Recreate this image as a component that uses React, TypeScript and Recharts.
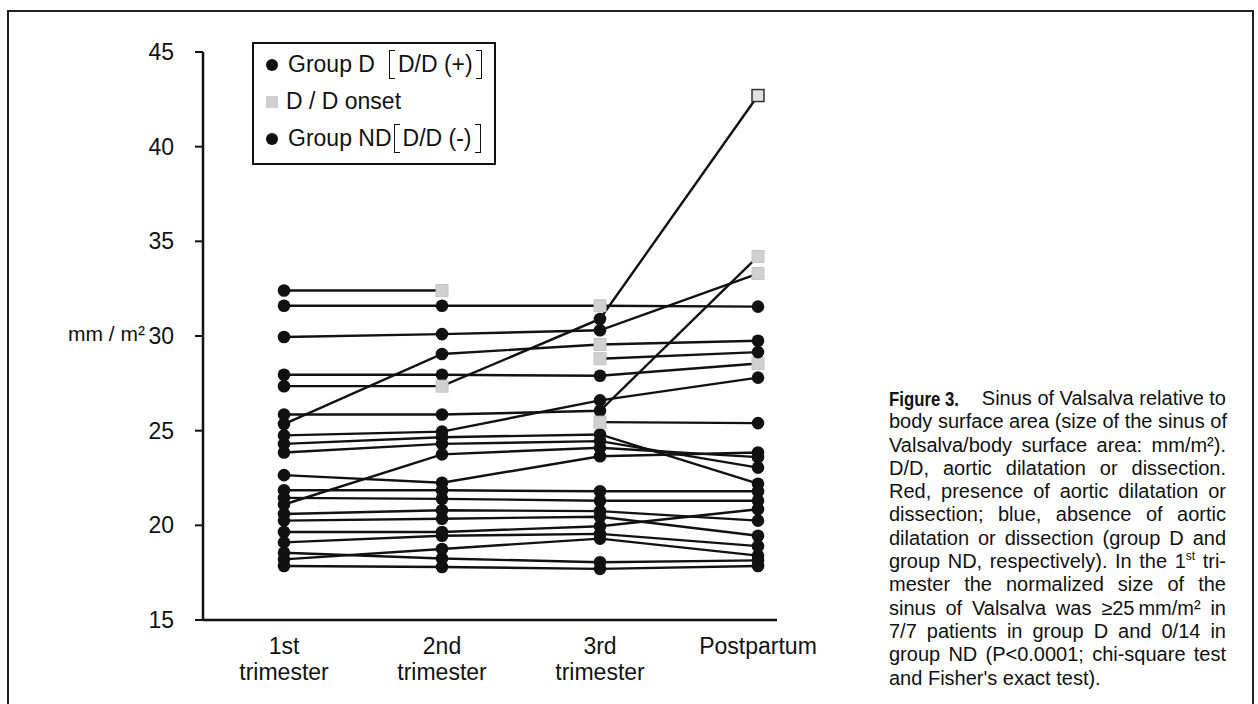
import React from 'react';
import { LineChart, Line, XAxis, YAxis } from 'recharts';

const timepoints = ['1st trimester', '2nd trimester', '3rd trimester', 'Postpartum'];
const yTicks = [15, 20, 25, 30, 35, 40, 45];

// Sinus of Valsalva / BSA (mm/m²) per patient, one value per timepoint (null = not measured)
const groupD: (number | null)[][] = [
  [32.4, 32.4, null, null],
  [31.6, 31.6, 31.6, 31.55],
  [29.95, 30.1, 30.3, 33.3],
  [27.95, 27.95, 27.9, 28.55],
  [27.35, 27.35, 30.9, 42.7],
  [25.85, 25.85, 26.05, 34.2],
  [25.35, 29.05, 29.55, 29.75],
];
// timepoint index where D/D onset was recorded
const groupDOnset: number[][] = [[1], [2], [3], [3], [1, 3], [3], [2]];

// followed from the 3rd trimester only
const lateSeries: (number | null)[][] = [
  [null, null, 28.8, 29.15],
  [null, null, 25.45, 25.4],
];
const lateOnset: number[][] = [[2], [2]];

const groupND: (number | null)[][] = [
  [24.75, 24.95, 26.6, 27.8],
  [24.3, 24.65, 24.8, 22.2],
  [23.85, 24.3, 24.45, 23.05],
  [21.1, 23.75, 24.1, 23.6],
  [22.65, 22.25, 23.65, 23.85],
  [21.85, 21.85, 21.8, 21.8],
  [21.45, 21.4, 21.3, 21.3],
  [20.6, 20.8, 20.75, 20.25],
  [20.25, 20.35, 20.45, 19.45],
  [19.65, 19.65, 19.95, 20.85],
  [19.1, 19.45, 19.55, 18.9],
  [18.55, 18.25, 18.05, 18.15],
  [18.2, 18.75, 19.3, 18.4],
  [17.85, 17.8, 17.7, 17.85],
];

const captionLines = [
  'body surface area (size of the sinus of',
  'Valsalva/body surface area: mm/m²).',
  'D/D, aortic dilatation or dissection.',
  'Red, presence of aortic dilatation or',
  'dissection; blue, absence of aortic',
  'dilatation or dissection (group D and',
];
const captionTail = [
  'mester the normalized size of the',
  'sinus of Valsalva was ≥25\u2009mm/m² in',
  '7/7 patients in group D and 0/14 in',
  'group ND (P<0.0001; chi-square test',
];

type SeriesDef = { key: string; values: (number | null)[]; onset: number[] };

const series: SeriesDef[] = [
  ...groupND.map((v, i) => ({ key: `n${i}`, values: v, onset: [] as number[] })),
  ...groupD.map((v, i) => ({ key: `d${i}`, values: v, onset: groupDOnset[i] })),
  ...lateSeries.map((v, i) => ({ key: `l${i}`, values: v, onset: lateOnset[i] })),
];

const rows = timepoints.map((t, ti) => {
  const row: Record<string, string | number | null> = { t };
  series.forEach((s) => {
    row[s.key] = s.values[ti];
  });
  return row;
});

const FONT = '"Liberation Sans", Arial, Helvetica, sans-serif';
const framedSquares = new Set(['d4-3']);

function makeDot(key: string, onset: number[]) {
  return (props: any) => {
    const { cx, cy, index, value } = props;
    if (value == null || cx == null || cy == null) return <g key={`${key}-x${index}`} />;
    if (onset.includes(index)) {
      const framed = framedSquares.has(`${key}-${index}`);
      return (
        <rect
          key={`${key}-s${index}`}
          x={cx - 6}
          y={cy - 6}
          width={12}
          height={12}
          fill={framed ? '#e2e2e2' : '#d0d0d0'}
          stroke={framed ? '#333' : '#c4c4c4'}
          strokeWidth={framed ? 1.5 : 1}
        />
      );
    }
    return <circle key={`${key}-c${index}`} cx={cx} cy={cy} r={6.3} fill="#111" />;
  };
}

const XTick = ({ x, y, payload }: any) => {
  const parts = String(payload.value).split(' ');
  return (
    <text x={x} y={y} textAnchor="middle" fontSize={23} fontFamily={FONT} fill="#111">
      {parts.map((p, i) => (
        <tspan key={p} x={x} dy={i === 0 ? 32 : 26}>
          {p}
        </tspan>
      ))}
    </text>
  );
};

const Bracket = ({ side }: { side: 'l' | 'r' }) => (
  <span
    style={{
      display: 'inline-block',
      width: 5,
      height: 27,
      verticalAlign: 'middle',
      borderTop: '1.5px solid #111',
      borderBottom: '1.5px solid #111',
      borderLeft: side === 'l' ? '1.5px solid #111' : 'none',
      borderRight: side === 'r' ? '1.5px solid #111' : 'none',
      margin: side === 'l' ? '0 3px 0 0' : '0 0 0 3px',
    }}
  />
);

const rowStyle: React.CSSProperties = {
  height: 37,
  display: 'flex',
  alignItems: 'center',
  whiteSpace: 'nowrap',
};

const Dot = () => (
  <span style={{ width: 12, height: 12, borderRadius: 6, background: '#111', display: 'inline-block', marginRight: 10 }} />
);

function LegendBox() {
  return (
    <div
      style={{
        position: 'absolute',
        left: 252,
        top: 42,
        border: '2px solid #111',
        padding: '2px 12px 6px 12px',
        fontSize: 23,
        color: '#111',
        background: '#fff',
      }}
    >
      <div style={rowStyle}>
        <Dot />
        <span>Group D</span>
        <span style={{ marginLeft: 14 }} />
        <Bracket side="l" />
        <span>D/D (+)</span>
        <Bracket side="r" />
      </div>
      <div style={rowStyle}>
        <span style={{ width: 12, height: 12, background: '#d0d0d0', display: 'inline-block', marginRight: 8 }} />
        <span>D / D onset</span>
      </div>
      <div style={rowStyle}>
        <Dot />
        <span>Group ND</span>
        <span style={{ marginLeft: 2 }} />
        <Bracket side="l" />
        <span>D/D (-)</span>
        <Bracket side="r" />
      </div>
    </div>
  );
}

const lineStyle: React.CSSProperties = { textAlign: 'justify', textAlignLast: 'justify', whiteSpace: 'nowrap' };

function Caption() {
  return (
    <div
      style={{
        position: 'absolute',
        left: 889,
        top: 387,
        width: 337,
        fontSize: 20,
        lineHeight: '23.3px',
        color: '#111',
      }}
    >
      <div style={{ display: 'flex', whiteSpace: 'nowrap' }}>
        <b
          style={{
            display: 'inline-block',
            width: 96,
            fontSize: 21,
            transform: 'scaleX(0.8)',
            transformOrigin: 'left center',
          }}
        >
          Figure 3.
        </b>
        <span style={{ flex: 1, textAlign: 'right' }}>Sinus of Valsalva relative to</span>
      </div>
      {captionLines.map((l) => (
        <div key={l} style={lineStyle}>
          {l}
        </div>
      ))}
      <div style={lineStyle}>
        group ND, respectively). In the 1<sup style={{ fontSize: 12, lineHeight: 0 }}>st</sup> tri-
      </div>
      {captionTail.map((l) => (
        <div key={l} style={lineStyle}>
          {l}
        </div>
      ))}
      <div>and Fisher's exact test).</div>
    </div>
  );
}

export default function App() {
  return (
    <div
      style={{
        position: 'absolute',
        left: 0,
        top: 0,
        width: 1258,
        height: 704,
        overflow: 'hidden',
        background: '#fff',
        fontFamily: FONT,
      }}
    >
      <div
        style={{
          position: 'absolute',
          left: 7,
          top: 10,
          width: 1243,
          height: 720,
          border: '2px solid #222',
        }}
      />
      <div style={{ position: 'absolute', left: 0, top: 0 }}>
        <LineChart width={870} height={704} data={rows} margin={{ top: 52, right: 93, bottom: 24, left: 143 }}>
          <XAxis
            dataKey="t"
            padding={{ left: 81, right: 19 }}
            axisLine={{ stroke: '#111', strokeWidth: 2.5 }}
            tickLine={false}
            tickSize={0}
            tick={<XTick />}
            interval={0}
            height={60}
          />
          <YAxis
            domain={[15, 45]}
            ticks={yTicks}
            width={60}
            axisLine={{ stroke: '#111', strokeWidth: 2.5 }}
            tickLine={{ stroke: '#111', strokeWidth: 2 }}
            tickSize={8}
            tickMargin={21}
            tick={{ fontSize: 23, fill: '#111', fontFamily: FONT }}
          />
          {series.map((s) => (
            <Line
              key={s.key}
              dataKey={s.key}
              stroke="#111"
              strokeWidth={2.4}
              dot={makeDot(s.key, s.onset)}
              activeDot={false}
              isAnimationActive={false}
              type="linear"
            />
          ))}
        </LineChart>
      </div>
      <div style={{ position: 'absolute', left: 68, top: 322, fontSize: 21, color: '#111', whiteSpace: 'nowrap' }}>
        mm / m²
      </div>
      <LegendBox />
      <Caption />
    </div>
  );
}
